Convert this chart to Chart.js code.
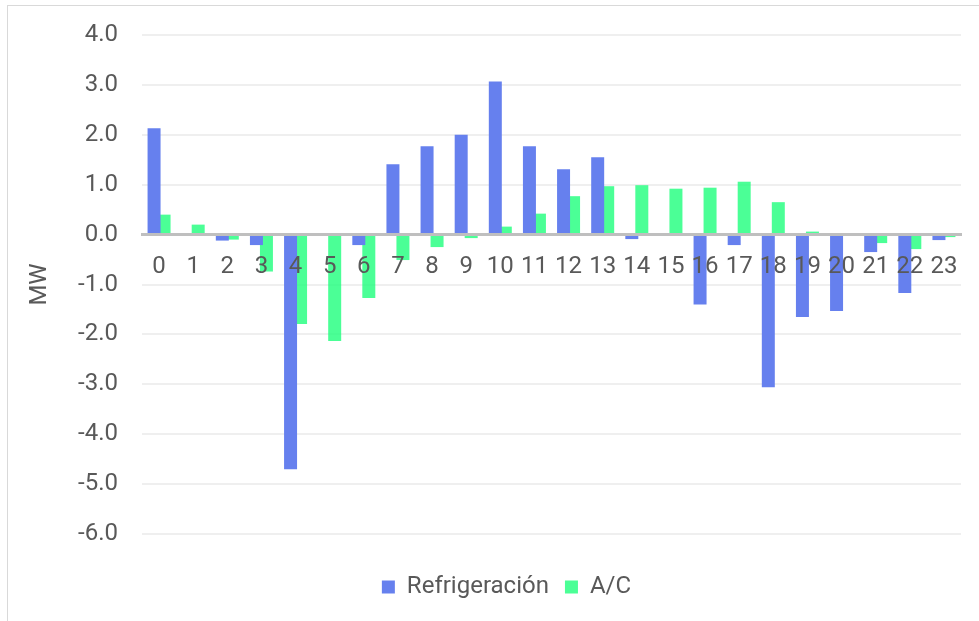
<!DOCTYPE html>
<html>
<head>
<meta charset="utf-8">
<script src="https://cdn.jsdelivr.net/npm/chart.js@4/dist/chart.umd.min.js"></script>
<style>
    html, body { margin: 0; padding: 0; background: #fff; }
    #wrap { position: relative; width: 979px; height: 621px; }
    #frame {
        position: absolute; left: 7px; top: 5px; width: 990px; height: 640px;
        border: 1px solid #d9d9d9; pointer-events: none; box-sizing: border-box;
    }
</style>
</head>
<body>
<div id="wrap">
    <canvas id="chart" width="979" height="621"></canvas>
    <div id="frame"></div>
</div>
<script>
    // Horas del día y potencia (MW) por tipo de carga
    var horas = ['0', '1', '2', '3', '4', '5', '6', '7', '8', '9', '10', '11',
        '12', '13', '14', '15', '16', '17', '18', '19', '20', '21', '22', '23'];
    var refrigeracion = [2.13, 0, -0.12, -0.21, -4.70, 0, -0.21, 1.41, 1.77, 2.00, 3.07, 1.77,
        1.31, 1.55, -0.09, 0, -1.40, -0.21, -3.06, -1.65, -1.53, -0.35, -1.17, -0.11];
    var aireAcond = [0.40, 0.20, -0.10, -0.74, -1.79, -2.13, -1.27, -0.51, -0.25, -0.07, 0.16, 0.42,
        0.77, 0.97, 0.99, 0.92, 0.94, 1.06, 0.65, 0.06, 0, -0.17, -0.29, -0.05];
    var yMin = -6;
    var yMax = 4;

    var TEXT = '#595959';
    var FONT = { family: 'Roboto', size: 24 };

    new Chart(document.getElementById('chart').getContext('2d'), {
        type: 'bar',
        data: {
            labels: horas,
            datasets: [{
                label: 'Refrigeración',
                data: refrigeracion,
                backgroundColor: '#6680ee',
            }, {
                label: 'A/C',
                data: aireAcond,
                backgroundColor: 'rgba(30, 255, 124, 0.8)',
            }],
        },
        options: {
            responsive: false,
            animation: false,
            categoryPercentage: 0.586,
            barPercentage: 1.3,
            // el padding izquierdo desplaza la leyenda hacia el centro del gráfico
            layout: { padding: { left: 52, right: 18, top: 35, bottom: 12 } },
            plugins: {
                tooltip: { enabled: false },
                legend: {
                    position: 'bottom',
                    // título vacío: solo separa la leyenda del área del gráfico
                    title: { display: true, text: '', font: { size: 10, lineHeight: 1.2 }, padding: 6.5 },
                    labels: {
                        color: TEXT,
                        font: FONT,
                        boxWidth: 13,
                        boxHeight: 13,
                        padding: 16,
                    },
                },
            },
            scales: {
                x: {
                    position: { y: 0 },
                    grid: { display: false, drawTicks: false },
                    border: { color: '#bfbfbf', width: 3, z: 1 },
                    ticks: { color: TEXT, font: FONT, padding: 18, maxRotation: 0, autoSkip: false, z: 1 },
                },
                y: {
                    min: yMin,
                    max: yMax,
                    afterFit: function (scale) {
                        scale.width = 90;
                        // sin margen extra arriba/abajo: el área la fija layout.padding
                        scale.paddingTop = 0;
                        scale.paddingBottom = 0;
                    },
                    grid: { color: '#efefef', lineWidth: 2, drawTicks: false },
                    border: { display: false },
                    ticks: {
                        stepSize: 1,
                        color: TEXT,
                        font: FONT,
                        padding: 24,
                        callback: function (v) { return v.toFixed(1); },
                    },
                    title: {
                        display: true,
                        text: 'MW',
                        color: TEXT,
                        font: FONT,
                        padding: { top: -26 },
                    },
                },
            },
        },
    });
</script>
</body>
</html>
